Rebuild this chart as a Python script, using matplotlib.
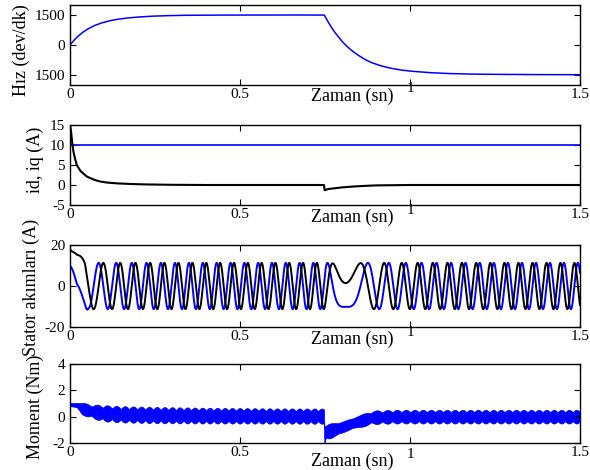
import numpy as np
import matplotlib
matplotlib.use("Agg")
import matplotlib.pyplot as plt

plt.rcParams['font.family'] = ['Liberation Serif', 'DejaVu Serif']
plt.rcParams['axes.unicode_minus'] = False

# ---------------- data ----------------
# speed (rpm)
speed_t = [0, 0.01, 0.02, 0.035, 0.05, 0.07, 0.09, 0.11, 0.13, 0.16, 0.19, 0.23, 0.27,
           0.32, 0.40, 0.50, 0.60, 0.70, 0.748, 0.755, 0.765, 0.775, 0.785, 0.80, 0.81,
           0.825, 0.845, 0.865, 0.885, 0.91, 0.94, 0.97, 1.00, 1.05, 1.10, 1.15, 1.20,
           1.30, 1.40, 1.50]
speed_v = [0, 205, 383, 603, 780, 960, 1090, 1185, 1260, 1335, 1385, 1432, 1460,
           1482, 1494, 1498, 1500, 1500, 1500, 1275, 985, 725, 500, 185, 5,
           -230, -485, -700, -870, -1020, -1150, -1245, -1305, -1375, -1420, -1445, -1460,
           -1475, -1482, -1485]

# d/q currents (A)
id_t = [0, 1.5]
id_v = [10, 10]
iq_t = [0, 0.003, 0.006, 0.01, 0.015, 0.02, 0.03, 0.04, 0.05, 0.06, 0.075, 0.09, 0.11,
        0.14, 0.18, 0.22, 0.30, 0.40, 0.747, 0.749, 0.76, 0.78, 0.80, 0.83, 0.86, 0.90,
        1.00, 1.50]
iq_v = [15, 13.5, 11, 8.4, 6.5, 5, 3.6, 2.8, 2.1, 1.7, 1.2, 0.85, 0.6,
        0.4, 0.25, 0.15, 0.05, 0, 0, -1.3, -1.0, -0.8, -0.6, -0.4, -0.25, -0.1,
        0, 0]

# stator current envelope and angle offsets
amp_t = [0, 0.02, 0.044, 0.055, 0.065, 0.76, 0.81, 0.86, 1.5]
amp_v = [20.4, 15.3, 14.0, 10.8, 11.3, 11.3, 10.2, 11.3, 11.3]
off_t = [0, 0.02, 0.044, 0.069, 0.097, 1.5]
off_v = [-29, -27.5, -63, -48, -45, -45]
turn_angle = 82        # current angle (deg) at the reversal turning point
turn_cycles = 17       # full current cycles before the turning point

# torque band (Nm)
tq_t = [0, 0.02, 0.035, 0.05, 0.07, 0.10, 0.15, 0.25, 0.40, 0.60, 0.747, 0.7475,
        0.7485, 0.752, 0.765, 0.80, 0.83, 0.86, 0.89, 0.95, 1.10, 1.50]
tq_mean = [0.92, 0.88, 0.62, 0.50, 0.38, 0.26, 0.18, 0.12, 0.08, 0.05, 0.04, -1.0,
           -1.4, -1.15, -1.08, -0.80, -0.50, -0.28, -0.05, 0.0, 0.0, 0.0]
tq_hwmax = [0.18, 0.20, 0.45, 0.50, 0.55, 0.62, 0.62, 0.62, 0.60, 0.58, 0.58, 0.60,
            0.60, 0.56, 0.56, 0.50, 0.46, 0.48, 0.52, 0.52, 0.52, 0.52]
tq_hwmin = [0.12, 0.14, 0.30, 0.32, 0.36, 0.40, 0.40, 0.40, 0.39, 0.38, 0.38, 0.60,
            0.60, 0.45, 0.42, 0.38, 0.36, 0.34, 0.34, 0.34, 0.34, 0.34]
bead_ratio = 1.85

xticks = [0, 0.5, 1, 1.5]
xticklabels = ['0', '0.5', '', '1.5']

# ---------------- build dense signals ----------------
t = np.linspace(0, 1.5, 30001)
speed = np.interp(t, speed_t, speed_v)
cyc = np.concatenate([[0], np.cumsum((speed[1:] + speed[:-1]) / 2 * np.diff(t))]) / 60.0
t_turn = t[np.argmax((t > 0.75) & (speed <= 0))]
c_turn = np.interp(t_turn, t, cyc)
k = (turn_angle + 360 * turn_cycles - np.interp(t_turn, off_t, off_v)) / (360 * c_turn)
delta = np.deg2rad(360 * k * cyc + np.interp(t, off_t, off_v))
amp = np.interp(t, amp_t, amp_v)
i_black = amp * np.cos(delta)
i_blue = -amp * np.sin(delta)

nb = bead_ratio * k * cyc
hwmin = np.interp(t, tq_t, tq_hwmin)
hwmax = np.interp(t, tq_t, tq_hwmax)
env = hwmin + (hwmax - hwmin) * np.abs(np.sin(np.pi * nb))
tmean = np.interp(t, tq_t, tq_mean)

# ---------------- figure ----------------
fig = plt.figure(figsize=(5.9, 4.7), dpi=100)
W, H = 590.0, 470.0
left, right = 70, 580
panels = [(5, 85), (125, 205), (245, 327), (364, 443)]
axes = []
for top, bot in panels:
    ax = fig.add_axes([left / W, 1 - bot / H, (right - left) / W, (bot - top) / H])
    axes.append(ax)

BLUE = '#0000ff'
a1, a2, a3, a4 = axes
a1.plot(t, speed, color=BLUE, lw=1.1)
a1.set_ylim(-2000, 2000)
a1.set_yticks([-1500, 0, 1500])
a1.set_yticklabels(['1500', '0', '1500'])

a2.plot(id_t, id_v, color=BLUE, lw=1.2)
a2.plot(iq_t, iq_v, color='black', lw=1.5)
a2.set_ylim(-5, 15)
a2.set_yticks([-5, 0, 5, 10, 15])

a3.plot(t, i_blue, color=BLUE, lw=1.4)
a3.plot(t, i_black, color='black', lw=1.4)
a3.set_ylim(-20, 20)
a3.set_yticks([-20, 0, 20])

a4.fill_between(t, tmean - env, tmean + env, color=BLUE, lw=0.5, edgecolor=BLUE)
a4.set_ylim(-2, 4)
a4.set_yticks([-2, 0, 2, 4])

ylabels = ['Hız (dev/dk)', 'id, iq (A)', 'Stator akımları (A)', 'Moment (Nm)']
ylab_pos = [(21, 50), (35, 160), (31, 287), (35, 407)]
xlab_y = [96, 217, 339, 461]
for ax, (top, bot), lab, (lx, ly), xy in zip(axes, panels, ylabels, ylab_pos, xlab_y):
    h = bot - top
    ax.set_xlim(0, 1.5)
    ax.set_xticks(xticks)
    ax.set_xticklabels(xticklabels)
    ax.tick_params(direction='in', length=4, width=0.8, top=True, right=True,
                   labelsize=11, pad=2)
    ax.tick_params(axis='y', pad=3.5)
    for s in ax.spines.values():
        s.set_linewidth(1.0)
    ax.set_ylabel(lab, fontsize=13, va='center', ha='center')
    ax.yaxis.set_label_coords((lx - left) / (right - left), (bot - ly) / h)
    ax.set_xlabel('Zaman (sn)', fontsize=13, va='center', ha='center')
    ax.xaxis.set_label_coords((352 - left) / (right - left), (bot - xy) / h)
    # raised "1" tick label, as in the reference
    ax.text(1.0, (bot - (xy - 7)) / h, '1', transform=ax.get_xaxis_transform(),
            ha='center', va='center', fontsize=11)

fig.savefig('out.png', dpi=100)
